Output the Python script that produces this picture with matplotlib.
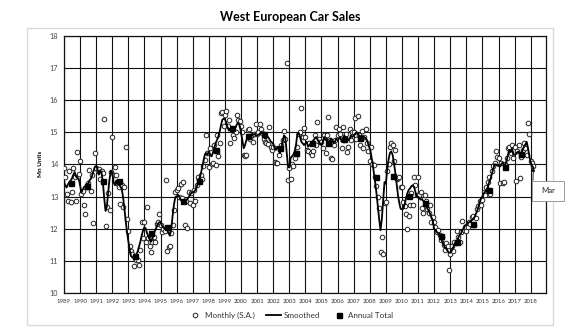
import numpy as np
import matplotlib
matplotlib.use("Agg")
import matplotlib.pyplot as plt
from matplotlib.patches import Rectangle

plt.rcParams['font.family'] = ['Lato', 'DejaVu Sans']

# ---- data (Mn units), Jan 1989 .. Mar 2018 ----
start_year = 1989
years = list(range(1989, 2019))

# monthly sales, seasonally adjusted (one row per year)
monthly = [
    13.88, 13.62, 13.08, 12.87, 13.78, 12.83, 13.14, 13.88, 13.62, 12.87, 14.38, 13.70,  # 1989
    14.10, 13.07, 13.16, 12.74, 12.47, 13.30, 13.41, 13.83, 13.16, 13.67, 12.19, 14.35,  # 1990
    13.90, 13.78, 13.85, 13.55, 13.80, 13.72, 15.40, 12.09, 12.66, 13.10, 12.58, 13.75,  # 1991
    14.86, 13.67, 13.93, 13.66, 13.40, 13.30, 12.78, 13.35, 12.66, 13.31, 14.55, 12.30,  # 1992
    11.94, 11.46, 11.30, 11.20, 10.85, 11.10, 11.02, 11.03, 10.87, 11.34, 12.20, 11.70,  # 1993
    12.20, 11.59, 12.66, 11.70, 11.46, 11.26, 11.60, 11.73, 11.58, 12.15, 12.20, 12.45,  # 1994
    12.10, 11.90, 12.00, 11.92, 13.52, 11.32, 11.43, 11.45, 11.87, 12.10, 12.58, 13.15,  # 1995
    13.20, 13.27, 13.00, 13.40, 12.95, 13.45, 12.10, 12.85, 12.02, 13.15, 12.80, 13.10,  # 1996
    12.73, 13.20, 12.85, 13.35, 13.62, 13.50, 13.67, 13.55, 13.96, 14.14, 14.91, 14.35,  # 1997
    13.93, 14.50, 14.00, 14.04, 14.60, 13.98, 14.90, 14.27, 14.65, 15.59, 15.64, 15.20,  # 1998
    15.55, 15.66, 15.20, 15.37, 14.67, 15.10, 14.90, 14.83, 15.00, 15.53, 15.37, 15.35,  # 1999
    15.20, 15.01, 14.29, 14.25, 14.30, 15.06, 15.10, 14.80, 14.90, 14.70, 14.95, 15.27,  # 2000
    14.95, 15.00, 15.25, 15.11, 14.96, 14.80, 14.70, 14.67, 14.63, 15.15, 14.54, 14.45,  # 2001
    14.55, 14.08, 14.03, 14.05, 14.30, 14.50, 14.60, 14.75, 15.05, 14.80, 17.15, 13.52,  # 2002
    13.88, 13.55, 14.00, 13.96, 14.20, 14.35, 14.55, 14.95, 15.00, 15.74, 14.85, 15.14,  # 2003
    14.85, 14.45, 14.40, 14.65, 14.35, 14.30, 14.40, 14.90, 14.60, 15.33, 14.80, 14.70,  # 2004
    14.70, 14.50, 14.90, 14.35, 14.90, 15.48, 14.75, 14.19, 14.17, 14.60, 14.75, 15.17,  # 2005
    14.90, 15.11, 14.95, 14.50, 15.15, 14.75, 14.95, 14.39, 14.55, 15.10, 14.75, 15.00,  # 2006
    15.00, 15.45, 14.80, 15.50, 14.90, 14.60, 15.05, 14.50, 14.85, 15.10, 14.65, 14.40,  # 2007
    14.10, 14.55, 14.00, 13.99, 13.60, 13.32, 12.97, 12.63, 11.28, 11.73, 11.21, 12.80,  # 2008
    12.83, 13.80, 14.00, 14.55, 14.65, 14.60, 14.10, 14.45, 13.55, 13.57, 13.60, 13.30,  # 2009
    13.30, 12.83, 12.69, 12.46, 12.00, 12.38, 12.75, 13.10, 12.74, 13.62, 13.36, 13.05,  # 2010
    13.60, 13.05, 13.14, 12.64, 12.50, 13.05, 12.85, 12.60, 12.48, 12.75, 12.20, 12.35,  # 2011
    12.20, 12.05, 11.90, 11.95, 11.80, 11.64, 11.75, 11.50, 11.34, 11.55, 11.45, 10.72,  # 2012
    11.20, 11.45, 11.30, 11.60, 11.55, 11.92, 11.75, 11.60, 11.90, 12.23, 11.95, 12.05,  # 2013
    11.92, 12.05, 12.22, 12.15, 12.35, 12.40, 12.10, 12.33, 12.60, 12.70, 12.85, 12.75,  # 2014
    12.90, 13.15, 13.05, 13.30, 13.45, 13.60, 13.07, 13.78, 13.95, 14.05, 14.40, 14.24,  # 2015
    14.20, 13.41, 14.05, 13.41, 13.45, 14.00, 14.20, 14.50, 14.55, 14.35, 14.60, 14.20,  # 2016
    14.55, 13.47, 14.40, 14.60, 13.57, 14.24, 14.45, 14.66, 14.50, 14.30, 15.28, 14.95,  # 2017
    14.10, 14.05, 13.95,                                                                  # 2018
]

# smoothed trend
smoothed = [
    13.45, 13.35, 13.28, 13.38, 13.45, 13.50, 13.57, 13.68, 13.76, 13.62, 13.57, 13.55,  # 1989
    13.35, 13.12, 13.22, 13.30, 13.32, 13.40, 13.38, 13.50, 13.55, 13.65, 13.78, 13.92,  # 1990
    13.95, 13.85, 13.68, 13.82, 13.75, 13.45, 12.95, 12.55, 12.70, 13.15, 13.55, 13.80,  # 1991
    13.75, 13.45, 13.35, 13.50, 13.40, 13.50, 13.30, 13.25, 13.00, 12.65, 12.25, 11.90,  # 1992
    11.60, 11.35, 11.15, 11.10, 11.10, 11.12, 11.20, 11.30, 11.45, 11.60, 11.80, 11.95,  # 1993
    12.05, 12.00, 11.85, 11.75, 11.65, 11.60, 11.70, 11.85, 11.95, 12.05, 12.15, 12.20,  # 1994
    12.20, 12.10, 12.05, 12.00, 12.00, 11.95, 11.85, 11.78, 12.00, 12.40, 12.75, 12.98,  # 1995
    13.00, 13.05, 12.98, 12.90, 12.85, 12.82, 12.85, 12.88, 12.92, 12.98, 13.05, 13.12,  # 1996
    13.12, 13.15, 13.20, 13.30, 13.45, 13.55, 13.70, 13.90, 14.10, 14.30, 14.35, 14.30,  # 1997
    14.40, 14.30, 14.25, 14.35, 14.50, 14.65, 14.75, 14.85, 15.00, 15.20, 15.38, 15.42,  # 1998
    15.40, 15.30, 15.15, 15.05, 15.10, 15.12, 15.15, 15.10, 15.15, 15.25, 15.30, 15.20,  # 1999
    15.00, 14.75, 14.50, 14.60, 14.75, 14.80, 14.78, 14.85, 14.90, 14.92, 14.95, 14.90,  # 2000
    14.90, 14.92, 14.95, 15.00, 14.95, 14.85, 14.80, 14.90, 14.85, 14.80, 14.72, 14.68,  # 2001
    14.65, 14.50, 14.45, 14.55, 14.45, 14.35, 14.50, 14.70, 14.90, 14.85, 14.40, 13.95,  # 2002
    13.90, 14.20, 14.25, 14.30, 14.40, 14.60, 14.95, 14.98, 14.85, 14.70, 14.65, 14.60,  # 2003
    14.65, 14.70, 14.55, 14.60, 14.65, 14.70, 14.75, 14.80, 14.85, 14.78, 14.70, 14.65,  # 2004
    14.60, 14.70, 14.85, 14.75, 14.80, 14.60, 14.70, 14.80, 14.75, 14.65, 14.70, 14.80,  # 2005
    14.75, 14.80, 14.85, 14.70, 14.75, 14.90, 14.80, 14.85, 14.75, 14.80, 14.90, 14.85,  # 2006
    14.90, 14.95, 15.00, 14.95, 14.90, 14.85, 14.90, 14.80, 14.85, 14.80, 14.75, 14.60,  # 2007
    14.50, 14.30, 14.05, 13.75, 13.45, 13.10, 12.70, 12.30, 11.95, 12.30, 12.90, 13.45,  # 2008
    13.40, 13.85, 14.15, 14.35, 14.40, 14.30, 14.05, 13.75, 13.40, 13.05, 12.80, 12.62,  # 2009
    12.60, 12.62, 12.75, 12.95, 13.10, 13.20, 13.25, 13.32, 13.35, 13.30, 13.15, 13.00,  # 2010
    13.00, 12.95, 12.90, 12.92, 12.85, 12.78, 12.70, 12.62, 12.55, 12.45, 12.35, 12.25,  # 2011
    12.00, 11.95, 11.90, 11.85, 11.80, 11.70, 11.60, 11.50, 11.42, 11.38, 11.30, 11.26,  # 2012
    11.25, 11.30, 11.40, 11.50, 11.55, 11.60, 11.72, 11.80, 11.85, 11.95, 12.00, 12.10,  # 2013
    12.12, 12.18, 12.20, 12.22, 12.26, 12.30, 12.35, 12.45, 12.55, 12.68, 12.80, 12.95,  # 2014
    13.00, 13.10, 13.15, 13.20, 13.30, 13.45, 13.55, 13.70, 13.85, 14.00, 14.00, 13.97,  # 2015
    13.95, 13.93, 14.00, 14.05, 14.00, 13.98, 14.10, 14.30, 14.45, 14.38, 14.50, 14.30,  # 2016
    14.30, 14.32, 14.38, 14.40, 14.30, 14.35, 14.45, 14.55, 14.62, 14.70, 14.50, 14.25,  # 2017
    14.05, 13.95, 13.90,                                                                  # 2018
]

annual_years = list(range(1989, 2018))
annual_total = [13.42, 13.33, 13.48, 13.48, 11.15, 11.87, 12.04, 12.85, 13.49, 14.46,
                15.13, 14.88, 14.93, 14.51, 14.36, 14.65, 14.65, 14.78, 14.81, 13.60,
                13.64, 13.01, 12.80, 11.77, 11.59, 12.16, 13.20, 13.92, 14.31]

last_label = "Mar"

# ---- figure ----
W, H = 580, 335
fig = plt.figure(figsize=(W / 100, H / 100), dpi=100)
fig.patches.append(Rectangle((0.046, 0.030), 0.908, 0.885, transform=fig.transFigure,
                             fill=False, edgecolor='#d9d9d9', linewidth=1.0))

ax = fig.add_axes([0.1103, 0.1254, 0.8311, 0.768])

t_month = start_year + np.arange(len(monthly)) / 12.0
t_smooth = start_year + np.arange(len(smoothed)) / 12.0
t_annual = np.array(annual_years) + 5 / 12.0

ax.plot(t_month, monthly, linestyle='none', marker='o', markersize=3.3,
        markerfacecolor='white', markeredgecolor='#222222', markeredgewidth=0.7,
        label='Monthly (S.A.)', zorder=3)
ax.plot(t_smooth, smoothed, color='black', linewidth=1.3, label='Smoothed', zorder=4)
ax.plot(t_annual, annual_total, linestyle='none', marker='s', markersize=3.6,
        color='black', label='Annual Total', zorder=5)

ax.set_xlim(1989, 2018.95)
ax.set_ylim(10, 18)
ax.set_xticks(years)
ax.set_xticklabels([str(y) for y in years], fontsize=4.3, color='#333333')
ax.set_yticks(range(10, 19))
ax.set_yticklabels([str(v) for v in range(10, 19)], fontsize=5.2, color='#444444')
ax.tick_params(length=0, pad=4)
ax.grid(True, color='#111111', linewidth=0.8)
ax.set_axisbelow(True)
for s in ax.spines.values():
    s.set_color('#111111')
    s.set_linewidth(0.9)

ax.set_ylabel('Mn Units', fontsize=4.6, fontweight='bold', labelpad=5)

fig.text(0.5, 0.948, 'West European Car Sales', ha='center', va='center',
         fontsize=9, fontweight='bold')

# callout box for the latest month, placed below-right of the last point
px, py = ax.transData.transform((t_smooth[-1], smoothed[-1]))
box_l, box_t, box_w, box_h = px - 1, py - 13, 32, 20
fig.patches.append(Rectangle((box_l / W, (box_t - box_h) / H), box_w / W, box_h / H,
                             transform=fig.transFigure, facecolor='white',
                             edgecolor='#999999', linewidth=0.7, zorder=6))
fig.text((box_l + box_w / 2) / W, (box_t - box_h / 2) / H, last_label,
         ha='center', va='center', fontsize=5.6, color='#222222', zorder=7)
ax.annotate('', xy=(t_smooth[-1], smoothed[-1]), xytext=(box_l + 0.5, box_t),
            textcoords='figure pixels',
            arrowprops=dict(arrowstyle='-|>', color='black', lw=0.6, mutation_scale=5,
                            shrinkA=0, shrinkB=0),
            annotation_clip=False, zorder=6)

fig.legend(loc='center', bbox_to_anchor=(0.501, 0.058), ncol=3, frameon=False,
           fontsize=5.8, handlelength=1.86, columnspacing=1.45, handletextpad=0.25,
           labelcolor='#333333')

fig.savefig('out.png', dpi=100)
